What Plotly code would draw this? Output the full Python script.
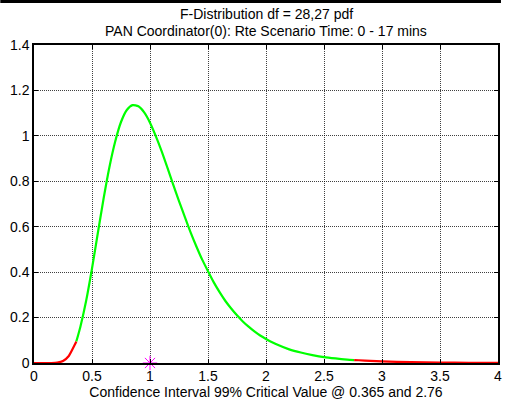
import plotly.graph_objects as go

# ---- data ----
x_vals = [0, 0.05, 0.1, 0.15, 0.2, 0.25, 0.3, 0.35, 0.365, 0.4, 0.45, 0.5, 0.55, 0.6,
          0.65, 0.7, 0.75, 0.8, 0.85, 0.9, 0.95, 1.0, 1.05, 1.1, 1.15, 1.2, 1.25, 1.3,
          1.35, 1.4, 1.45, 1.5, 1.55, 1.6, 1.65, 1.7, 1.75, 1.8, 1.85, 1.9, 1.95, 2.0,
          2.1, 2.2, 2.3, 2.4, 2.5, 2.6, 2.7, 2.76, 2.8, 2.9, 3.0, 3.25, 3.5, 3.75, 4.0]
pdf_vals = [0, 0, 0, 0.0001, 0.0015, 0.0088, 0.031, 0.079, 0.095, 0.160, 0.275, 0.416,
            0.571, 0.724, 0.862, 0.975, 1.061, 1.114, 1.135, 1.130, 1.103, 1.058, 0.999,
            0.933, 0.860, 0.785, 0.713, 0.643, 0.575, 0.513, 0.455, 0.404, 0.355, 0.312,
            0.273, 0.240, 0.210, 0.183, 0.160, 0.139, 0.121, 0.106, 0.080, 0.060, 0.046,
            0.035, 0.026, 0.020, 0.015, 0.013, 0.012, 0.009, 0.007, 0.004, 0.002, 0.001,
            0.0006]
lower_crit = 0.365
upper_crit = 2.76
star_x = [1]
star_y = [0]
x_ticks = [0, 0.5, 1, 1.5, 2, 2.5, 3, 3.5, 4]
x_ticklabels = ["0", "0.5", "1", "1.5", "2", "2.5", "3", "3.5", "4"]
y_ticks = [0, 0.2, 0.4, 0.6, 0.8, 1.0, 1.2, 1.4]
y_ticklabels = ["0", "0.2", "0.4", "0.6", "0.8", "1", "1.2", "1.4"]
title1 = "F-Distribution df = 28,27 pdf"
title2 = "PAN Coordinator(0): Rte Scenario Time: 0 - 17 mins"
x_title = "Confidence Interval 99% Critical Value @ 0.365 and 2.76"

# ---- split into segments ----
left = [(x, y) for x, y in zip(x_vals, pdf_vals) if x <= lower_crit]
mid = [(x, y) for x, y in zip(x_vals, pdf_vals) if lower_crit <= x <= upper_crit]
right = [(x, y) for x, y in zip(x_vals, pdf_vals) if x >= upper_crit]

FONT = "Liberation Sans, Arial, sans-serif"
FS = 14
W, H = 505, 407
ML, MR, MT, MB = 34, 3, 45, 44

fig = go.Figure()
for seg, col in [(left, "#FF0000"), (mid, "#00FF00"), (right, "#FF0000")]:
    fig.add_trace(go.Scatter(x=[p[0] for p in seg], y=[p[1] for p in seg],
                             mode="lines", line=dict(color=col, width=2.2, shape="spline",
                                                     smoothing=0.6),
                             showlegend=False, hoverinfo="skip"))
fig.add_trace(go.Scatter(x=star_x, y=star_y, mode="markers", cliponaxis=False,
                         marker=dict(symbol="asterisk-open", size=12, color="#FF00FF",
                                     line=dict(color="#FF00FF", width=1)),
                         showlegend=False, hoverinfo="skip"))

axis_common = dict(showline=True, linecolor="black", linewidth=1.5, mirror="allticks",
                   ticks="inside", ticklen=4, tickcolor="black", tickwidth=1,
                   showgrid=True, gridcolor="rgba(0,0,0,0.75)", gridwidth=1,
                   griddash="1px,1px",
                   zeroline=False, tickfont=dict(family=FONT, size=FS, color="black"))

fig.update_xaxes(range=[0, 4], tickvals=x_ticks, ticktext=x_ticklabels,
                 title=dict(text=x_title, font=dict(family=FONT, size=FS, color="black"),
                            standoff=4),
                 ticklabelstandoff=-1,
                 **axis_common)
fig.update_yaxes(range=[0, 1.4], tickvals=y_ticks, ticktext=y_ticklabels, **axis_common)

ph = H - MT - MB
fig.add_annotation(text=title1, xref="paper", yref="paper", x=0.5, y=1 + (MT - 14) / ph,
                   showarrow=False, yanchor="middle",
                   font=dict(family=FONT, size=FS, color="black"))
fig.add_annotation(text=title2, xref="paper", yref="paper", x=0.5, y=1 + (MT - 31) / ph,
                   showarrow=False, yanchor="middle",
                   font=dict(family=FONT, size=FS, color="black"))
# thin black frame edge at the very top of the figure
fig.add_shape(type="rect", xref="paper", yref="paper",
              x0=-ML / (W - ML - MR), x1=1 + MR / (W - ML - MR),
              y0=1 + (MT - 3) / ph, y1=1 + MT / ph,
              fillcolor="black", line=dict(width=0), layer="above")

fig.update_layout(width=W, height=H, margin=dict(l=ML, r=MR, t=MT, b=MB),
                  paper_bgcolor="white", plot_bgcolor="white",
                  font=dict(family=FONT, size=FS, color="black"))

fig.write_html("out.html")
